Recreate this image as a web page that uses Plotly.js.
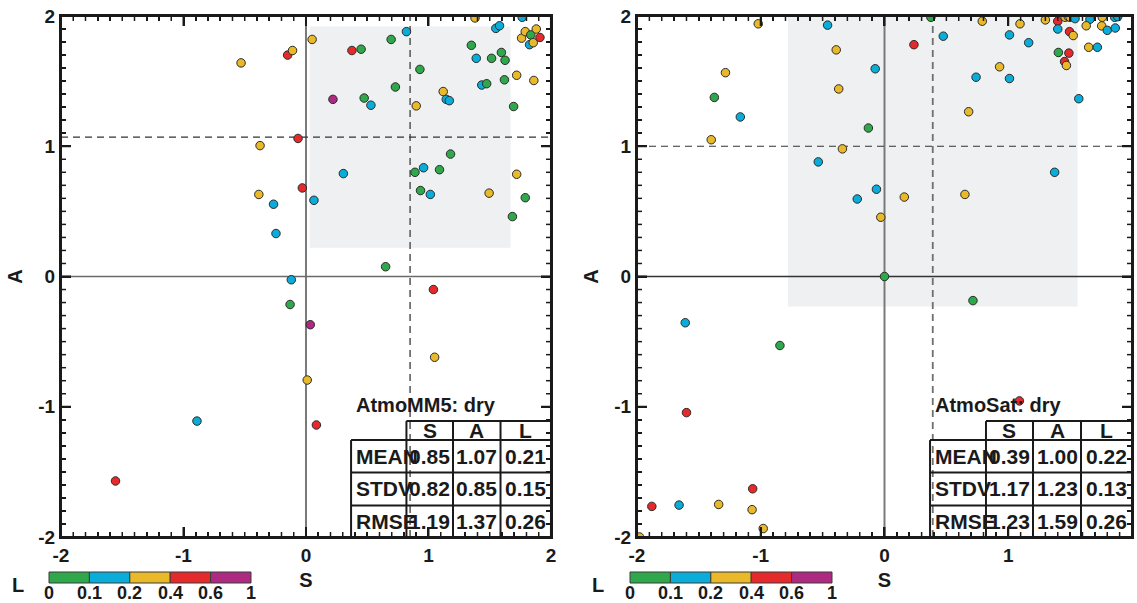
<!DOCTYPE html>
<html>
<head>
<meta charset="utf-8">
<script src="https://cdn.plot.ly/plotly-3.0.1.min.js"></script>
<style>html,body{margin:0;padding:0;background:#fff;}#chart{width:1137px;height:603px;}</style>
</head>
<body>
<div id="chart"></div>
<script>
// ---------- DATA ----------
// L class index: 0 -> [0,0.1), 1 -> [0.1,0.2), 2 -> [0.2,0.4), 3 -> [0.4,0.6), 4 -> [0.6,1]
var L_BIN_LABELS = ['0', '0.1', '0.2', '0.4', '0.6', '1'];
var L_COLORS = ['#2fa84c', '#0aadd9', '#e9b92a', '#e52a2b', '#ae2a82'];
var tickVals = [-2, -1, 0, 1, 2];
var tickText = ['-2', '-1', '0', '1', '2'];

var mm5_S = [-0.53,-0.15,-0.11,0.05,0.22,0.375,0.45,0.475,0.53,0.695,0.73,0.82,0.93,0.90,1.12,1.145,1.17,1.38,1.35,1.39,1.435,1.475,1.55,1.58,1.595,1.515,1.625,1.62,1.72,1.695,1.765,1.76,1.79,1.835,1.825,1.855,1.88,1.91,1.86,-0.065,-0.375,0.305,0.89,0.96,1.09,1.18,1.72,-0.385,-0.265,-0.03,0.065,0.935,1.015,1.495,1.79,1.685,-0.245,0.65,-0.12,1.04,-0.13,0.035,1.05,0.01,-0.89,0.085,-1.555];
var mm5_A = [1.64,1.70,1.735,1.82,1.36,1.735,1.745,1.37,1.315,1.82,1.455,1.88,1.59,1.31,1.42,1.36,1.35,1.985,1.775,1.675,1.47,1.48,1.905,1.925,1.72,1.675,1.66,1.51,1.545,1.305,1.99,1.83,1.88,1.855,1.78,1.795,1.90,1.835,1.505,1.06,1.005,0.79,0.80,0.835,0.82,0.94,0.785,0.63,0.555,0.68,0.585,0.66,0.63,0.64,0.605,0.46,0.33,0.075,-0.025,-0.10,-0.215,-0.37,-0.62,-0.795,-1.11,-1.14,-1.57];
var mm5_L = [2,3,2,2,4,3,0,0,1,0,0,1,0,2,2,1,1,2,0,1,1,0,1,1,0,0,0,0,2,0,1,2,2,0,1,2,2,3,2,3,2,1,0,1,0,0,2,2,1,3,1,0,1,2,0,0,1,0,1,3,0,4,2,2,1,3,3];

var sat_S = [-1.02,-0.46,0.375,0.475,0.238,0.79,1.095,1.01,1.165,1.30,1.40,1.46,1.485,1.50,1.54,1.40,1.495,1.525,1.405,1.49,1.455,1.47,1.65,1.72,1.66,1.63,1.76,1.755,1.80,1.865,1.86,1.885,-0.39,-0.075,-1.285,-1.375,-1.165,-0.37,0.93,0.74,1.01,1.57,0.68,-0.13,-1.40,-0.34,-0.535,1.375,-0.065,-0.22,0.16,0.65,-0.03,0.0,0.715,-1.61,-0.845,-1.60,1.09,-1.065,-1.88,-1.66,-1.34,-1.07,-0.98,-1.98];
var sat_A = [1.94,1.93,1.99,1.845,1.78,1.96,1.94,1.855,1.795,1.97,1.96,1.99,1.995,1.99,1.98,1.90,1.88,1.85,1.72,1.715,1.65,1.62,1.76,1.76,1.975,1.925,1.99,1.924,1.89,1.908,1.99,1.995,1.74,1.595,1.565,1.375,1.225,1.44,1.61,1.53,1.52,1.365,1.265,1.14,1.05,0.98,0.88,0.80,0.67,0.595,0.61,0.63,0.455,0.0,-0.185,-0.355,-0.53,-1.045,-0.955,-1.63,-1.765,-1.755,-1.75,-1.79,-1.935,-2.0];
var sat_L = [2,1,0,1,3,2,2,1,1,2,3,2,2,2,1,1,3,2,0,3,3,2,2,1,1,2,2,2,1,1,1,1,2,1,2,0,1,2,2,1,1,1,2,0,2,2,1,1,1,1,2,2,2,0,0,1,0,3,3,3,3,1,2,2,2,2];

var statRows = ['MEAN', 'STDV', 'RMSE'];
var statCols = ['S', 'A', 'L'];
var mm5_statS = [0.85, 0.82, 1.19];
var mm5_statA = [1.07, 0.85, 1.37];
var mm5_statL = [0.21, 0.15, 0.26];
var sat_statS = [0.39, 1.17, 1.23];
var sat_statA = [1.00, 1.23, 1.59];
var sat_statL = [0.22, 0.13, 0.26];

var panelTitles = ['AtmoMM5: dry', 'AtmoSat: dry'];

// ---------- STYLE / LAYOUT ----------
var FONT = 'Liberation Sans, Arial, Helvetica, sans-serif';
var INK = '#1a1a1a';
var AX_RANGE = [-2, 2];
var MINOR_STEP = 0.1;
var DOM1 = [0, 0.4575], DOM2 = [0.5378, 1];

function discreteScale(cols) {
  var cs = [], n = cols.length;
  for (var i = 0; i < n; i++) { cs.push([i / n, cols[i]]); cs.push([(i + 1) / n, cols[i]]); }
  return cs;
}
function mid(arr) { return arr.map(function (v) { return v + 0.5; }); }

function scatterTrace(S, A, L, xa, ya) {
  return {
    type: 'scatter', mode: 'markers', x: S, y: A, xaxis: xa, yaxis: ya,
    hoverinfo: 'x+y',
    marker: {
      size: 8.5, color: mid(L), cmin: 0, cmax: L_COLORS.length, colorscale: discreteScale(L_COLORS),
      line: { color: '#2b2b2b', width: 1 }, showscale: false
    }
  };
}

var traces = [
  scatterTrace(mm5_S, mm5_A, mm5_L, 'x', 'y'),
  scatterTrace(sat_S, sat_A, sat_L, 'x2', 'y2')
];

function axisCommon(anchor, titleText, standoff) {
  return {
    anchor: anchor, range: AX_RANGE,
    tickmode: 'array', tickvals: tickVals, ticktext: tickText,
    ticks: 'inside', ticklen: 10, tickwidth: 2, tickcolor: INK,
    minor: { dtick: MINOR_STEP, ticks: 'inside', ticklen: 5, tickwidth: 1.5, tickcolor: INK },
    showline: true, linewidth: 2, linecolor: INK, mirror: 'ticks',
    showgrid: false, zeroline: false, fixedrange: true,
    tickfont: { family: FONT, size: 19, color: INK, weight: 'bold' },
    title: { text: titleText, font: { family: FONT, size: 20, color: INK, weight: 'bold' }, standoff: standoff }
  };
}
function axisX(domain, anchor) { var a = axisCommon(anchor, 'S', 8); a.domain = domain; return a; }
function axisY(anchor) { var a = axisCommon(anchor, 'A', 10); a.domain = [0, 1]; return a; }

var shapes = [], annotations = [];
// stats table grid, as fractions of a panel
var COLX = [0.592, 0.705, 0.80, 0.897, 1.0];
var ROWY = [0.2225, 0.186, 0.124, 0.0605, 0.0];

// frame and inward tick marks on all four sides (pixel-length shapes anchored on the axis scales)
function addFrame(xa, ya, dom) {
  var lo = AX_RANGE[0], hi = AX_RANGE[1];
  var n = Math.round((hi - lo) / MINOR_STEP);
  for (var k = 0; k <= n; k++) {
    var v = +(lo + k * MINOR_STEP).toFixed(6);
    var major = Math.abs(v - Math.round(v)) < 1e-6;
    var len = major ? 10 : 5, w = major ? 2 : 1.5;
    var ln = { color: INK, width: w };
    shapes.push({ type: 'line', xref: xa, yref: ya, ysizemode: 'pixel', yanchor: lo, x0: v, x1: v, y0: 0, y1: len, line: ln });
    shapes.push({ type: 'line', xref: xa, yref: ya, ysizemode: 'pixel', yanchor: hi, x0: v, x1: v, y0: 0, y1: -len, line: ln });
    shapes.push({ type: 'line', xref: xa, yref: ya, xsizemode: 'pixel', xanchor: lo, y0: v, y1: v, x0: 0, x1: len, line: ln });
    shapes.push({ type: 'line', xref: xa, yref: ya, xsizemode: 'pixel', xanchor: hi, y0: v, y1: v, x0: 0, x1: -len, line: ln });
  }
  shapes.push({ type: 'rect', xref: 'paper', yref: 'paper', x0: dom[0], x1: dom[1], y0: 0, y1: 1,
    fillcolor: 'rgba(0,0,0,0)', line: { color: INK, width: 2 } });
}

function addPanel(xa, ya, dom, stS, stA, stL, title, hZeroColor) {
  var lo = AX_RANGE[0], hi = AX_RANGE[1];
  function px(f) { return dom[0] + f * (dom[1] - dom[0]); }
  // mean +/- stdv box
  shapes.push({ type: 'rect', xref: xa, yref: ya, layer: 'below',
    x0: stS[0] - stS[1], x1: stS[0] + stS[1], y0: stA[0] - stA[1], y1: Math.min(hi, stA[0] + stA[1]),
    fillcolor: '#eef0f1', line: { width: 0 } });
  // zero lines
  shapes.push({ type: 'line', xref: xa, yref: ya, x0: 0, x1: 0, y0: lo, y1: hi, layer: 'below',
    line: { color: '#7a7a7a', width: 2 } });
  shapes.push({ type: 'line', xref: xa, yref: ya, x0: lo, x1: hi, y0: 0, y1: 0, layer: 'below',
    line: { color: hZeroColor, width: 1.5 } });
  // mean lines
  shapes.push({ type: 'line', xref: xa, yref: ya, x0: stS[0], x1: stS[0], y0: lo, y1: hi, layer: 'below',
    line: { color: '#6f6f6f', width: 1.8, dash: '7px,5px' } });
  shapes.push({ type: 'line', xref: xa, yref: ya, x0: lo, x1: hi, y0: stA[0], y1: stA[0], layer: 'below',
    line: { color: '#333', width: 1.2, dash: '7px,5px' } });
  addFrame(xa, ya, dom);
  // table grid
  var lw = { color: INK, width: 2 };
  shapes.push({ type: 'line', xref: 'paper', yref: 'paper', x0: px(COLX[1]), x1: px(1), y0: ROWY[0], y1: ROWY[0], line: lw });
  for (var r = 1; r <= 3; r++)
    shapes.push({ type: 'line', xref: 'paper', yref: 'paper', x0: px(COLX[0]), x1: px(1), y0: ROWY[r], y1: ROWY[r], line: lw });
  shapes.push({ type: 'line', xref: 'paper', yref: 'paper', x0: px(COLX[0]), x1: px(COLX[0]), y0: 0, y1: ROWY[1], line: lw });
  for (var c = 1; c <= 3; c++)
    shapes.push({ type: 'line', xref: 'paper', yref: 'paper', x0: px(COLX[c]), x1: px(COLX[c]), y0: 0, y1: ROWY[0], line: lw });

  var tf = { family: FONT, size: 21, color: INK, weight: 'bold' };
  annotations.push({ xref: 'paper', yref: 'paper', x: px(0.599), y: 0.253, xanchor: 'left', yanchor: 'middle',
    text: title, showarrow: false, font: { family: FONT, size: 20, color: INK, weight: 'bold' } });
  for (var c2 = 0; c2 < 3; c2++)
    annotations.push({ xref: 'paper', yref: 'paper', x: px((COLX[c2 + 1] + COLX[c2 + 2]) / 2), y: (ROWY[0] + ROWY[1]) / 2,
      xanchor: 'center', yanchor: 'middle', text: statCols[c2], showarrow: false, font: tf });
  var cols = [stS, stA, stL];
  for (var r2 = 0; r2 < 3; r2++) {
    var yc = (ROWY[r2 + 1] + ROWY[r2 + 2]) / 2;
    annotations.push({ xref: 'paper', yref: 'paper', x: px(0.597), y: yc, xanchor: 'left', yanchor: 'middle',
      text: statRows[r2], showarrow: false, font: tf });
    for (var c3 = 0; c3 < 3; c3++)
      annotations.push({ xref: 'paper', yref: 'paper', x: px((COLX[c3 + 1] + COLX[c3 + 2]) / 2), y: yc,
        xanchor: 'center', yanchor: 'middle', text: cols[c3][r2].toFixed(2), showarrow: false, font: tf });
  }
}
addPanel('x', 'y', DOM1, mm5_statS, mm5_statA, mm5_statL, panelTitles[0], '#6a6a6a');
addPanel('x2', 'y2', DOM2, sat_statS, sat_statA, sat_statL, panelTitles[1], '#333333');

// colour key for L under each panel (paper coordinates)
function addKey(x0, x1, titleX) {
  var yTop = -0.0672, yBot = -0.0883, n = L_COLORS.length, w = (x1 - x0) / n;
  for (var i = 0; i < n; i++)
    shapes.push({ type: 'rect', xref: 'paper', yref: 'paper', x0: x0 + i * w, x1: x0 + (i + 1) * w, y0: yBot, y1: yTop,
      fillcolor: L_COLORS[i], line: { color: '#3a3a3a', width: 1 } });
  for (var j = 0; j < L_BIN_LABELS.length; j++)
    annotations.push({ xref: 'paper', yref: 'paper', x: x0 + j * w, y: -0.108, xanchor: 'center', yanchor: 'middle',
      text: L_BIN_LABELS[j], showarrow: false, font: { family: FONT, size: 18, color: INK, weight: 'bold' } });
  annotations.push({ xref: 'paper', yref: 'paper', x: titleX, y: -0.092, xanchor: 'center', yanchor: 'middle',
    text: 'L', showarrow: false, font: { family: FONT, size: 20, color: INK, weight: 'bold' } });
}
addKey(-0.0112, 0.1774, -0.0402);
addKey(0.5313, 0.7199, 0.5014);

var layout = {
  width: 1137, height: 603,
  margin: { l: 61, r: 5, t: 16, b: 66, pad: 0, autoexpand: false },
  paper_bgcolor: '#ffffff', plot_bgcolor: 'rgba(0,0,0,0)',
  showlegend: false,
  font: { family: FONT, color: INK },
  xaxis: axisX(DOM1, 'y'),
  yaxis: axisY('x'),
  xaxis2: axisX(DOM2, 'y2'),
  yaxis2: axisY('x2'),
  shapes: shapes,
  annotations: annotations
};

Plotly.newPlot('chart', traces, layout, { displayModeBar: false, staticPlot: true });
</script>
</body>
</html>
